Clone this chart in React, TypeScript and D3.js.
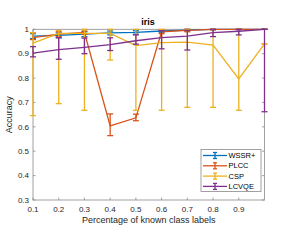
import { scaleLinear, line } from "d3";

const xs = [0.1, 0.2, 0.3, 0.4, 0.5, 0.6, 0.7, 0.8, 0.9, 1.0];

const seriesNames = ["WSSR+", "PLCC", "CSP", "LCVQE"];
const seriesColors = ["#0072BD", "#D95319", "#EDB120", "#7E2F8E"];

const wssrMean = [0.972, 0.975, 0.98, 0.985, 0.987, 0.993, 0.997, 1, 1, 1];
const wssrLow = [0.962, 0.965, 0.97, 0.977, 0.98, 0.988, 0.993, 0.998, 0.998, 1];
const wssrHigh = [0.982, 0.985, 0.99, 0.993, 0.994, 0.998, 1, 1, 1, 1];

const plccMean = [0.966, 0.98, 0.987, 0.604, 0.637, 0.99, 0.996, 1, 1, 1];
const plccLow = [0.958, 0.97, 0.98, 0.564, 0.625, 0.982, 0.99, 0.998, 1, 1];
const plccHigh = [0.986, 0.99, 0.993, 0.653, 0.652, 0.998, 1, 1, 1, 1];

const cspMean = [0.943, 0.983, 0.983, 0.983, 0.933, 0.945, 0.947, 0.935, 0.797, 0.94];
const cspLow = [0.646, 0.695, 0.668, 0.874, 0.668, 0.668, 0.68, 0.68, 0.668, 0.94];
const cspHigh = [0.986, 0.995, 1, 1, 1, 1, 1, 1, 1, 0.94];

const lcvqeMean = [0.902, 0.917, 0.926, 0.937, 0.953, 0.966, 0.972, 0.986, 0.992, 1];
const lcvqeLow = [0.887, 0.877, 0.9, 0.913, 0.939, 0.92, 0.915, 0.97, 0.977, 0.662];
const lcvqeHigh = [0.929, 0.966, 0.964, 0.965, 0.977, 0.994, 0.996, 1, 1, 1];

const xTicks = [0.1, 0.2, 0.3, 0.4, 0.5, 0.6, 0.7, 0.8, 0.9];
const yTicks = [0.3, 0.4, 0.5, 0.6, 0.7, 0.8, 0.9, 1];

const width = 287;
const height = 240;
const plot = { left: 33, right: 264.5, top: 29.3, bottom: 200 };
const font = "'Liberation Sans', Arial, sans-serif";
const axisColor = "#8a8a8a";
const textColor = "#262626";

export default function App() {
  const x = scaleLinear().domain([0.1, 1]).range([plot.left, plot.right]);
  const y = scaleLinear().domain([0.3, 1]).range([plot.bottom, plot.top]);

  const series = [
    { mean: wssrMean, low: wssrLow, high: wssrHigh },
    { mean: plccMean, low: plccLow, high: plccHigh },
    { mean: cspMean, low: cspLow, high: cspHigh },
    { mean: lcvqeMean, low: lcvqeLow, high: lcvqeHigh },
  ];

  const path = line<number>()
    .x((_, i) => x(xs[i]))
    .y((d) => y(d));

  const cap = 3;
  const tickLen = 2.5;

  return (
    <svg
      width={width}
      height={height}
      style={{ position: "absolute", left: 0, top: 0, background: "#fff" }}
      fontFamily={font}
    >
      <rect x={0} y={0} width={width} height={height} fill="#fff" />
      {/* axes box */}
      <rect
        x={plot.left}
        y={plot.top}
        width={plot.right - plot.left}
        height={plot.bottom - plot.top}
        fill="#fff"
        stroke={axisColor}
        strokeWidth={0.8}
      />
      {xTicks.map((t) => (
        <g key={"x" + t}>
          <line x1={x(t)} x2={x(t)} y1={plot.bottom} y2={plot.bottom - tickLen} stroke={axisColor} strokeWidth={0.8} />
          <line x1={x(t)} x2={x(t)} y1={plot.top} y2={plot.top + tickLen} stroke={axisColor} strokeWidth={0.8} />
          <text x={x(t)} y={plot.bottom + 12} fontSize={8} textAnchor="middle" fill={textColor}>
            {t}
          </text>
        </g>
      ))}
      {yTicks.map((t) => (
        <g key={"y" + t}>
          <line x1={plot.left} x2={plot.left + tickLen} y1={y(t)} y2={y(t)} stroke={axisColor} strokeWidth={0.8} />
          <line x1={plot.right} x2={plot.right - tickLen} y1={y(t)} y2={y(t)} stroke={axisColor} strokeWidth={0.8} />
          <text x={plot.left - 4} y={y(t)} dy="0.35em" fontSize={8} textAnchor="end" fill={textColor}>
            {t}
          </text>
        </g>
      ))}
      {series.map((s, k) => (
        <g key={seriesNames[k]} stroke={seriesColors[k]} strokeWidth={1.3} fill="none">
          {s.mean.map((_, i) => (
            <g key={i}>
              <line x1={x(xs[i])} x2={x(xs[i])} y1={y(s.low[i])} y2={y(s.high[i])} />
              <line x1={x(xs[i]) - cap} x2={x(xs[i]) + cap} y1={y(s.low[i])} y2={y(s.low[i])} />
              <line x1={x(xs[i]) - cap} x2={x(xs[i]) + cap} y1={y(s.high[i])} y2={y(s.high[i])} />
            </g>
          ))}
          <path d={path(s.mean) ?? ""} />
        </g>
      ))}
      <text x={148} y={25} fontSize={9} fontWeight="bold" textAnchor="middle" fill="#000">
        iris
      </text>
      <text x={(plot.left + plot.right) / 2} y={223} fontSize={9} textAnchor="middle" fill={textColor}>
        Percentage of known class labels
      </text>
      <text
        transform={`translate(12, ${(plot.top + plot.bottom) / 2}) rotate(-90)`}
        fontSize={9}
        textAnchor="middle"
        fill={textColor}
      >
        Accuracy
      </text>
      {/* legend */}
      <g>
        <rect x={201} y={149.5} width={60} height={42} fill="#fff" stroke={axisColor} strokeWidth={0.8} />
        {seriesNames.map((name, k) => {
          const ly = 155.5 + k * 10.3;
          return (
            <g key={name}>
              <g stroke={seriesColors[k]} strokeWidth={1.3}>
                <line x1={203} x2={227} y1={ly} y2={ly} />
                <line x1={215} x2={215} y1={ly - 3} y2={ly + 3} />
                <line x1={213} x2={217} y1={ly - 3} y2={ly - 3} />
                <line x1={213} x2={217} y1={ly + 3} y2={ly + 3} />
              </g>
              <text x={228.5} y={ly} dy="0.35em" fontSize={7.5} fill="#000">
                {name}
              </text>
            </g>
          );
        })}
      </g>
    </svg>
  );
}
